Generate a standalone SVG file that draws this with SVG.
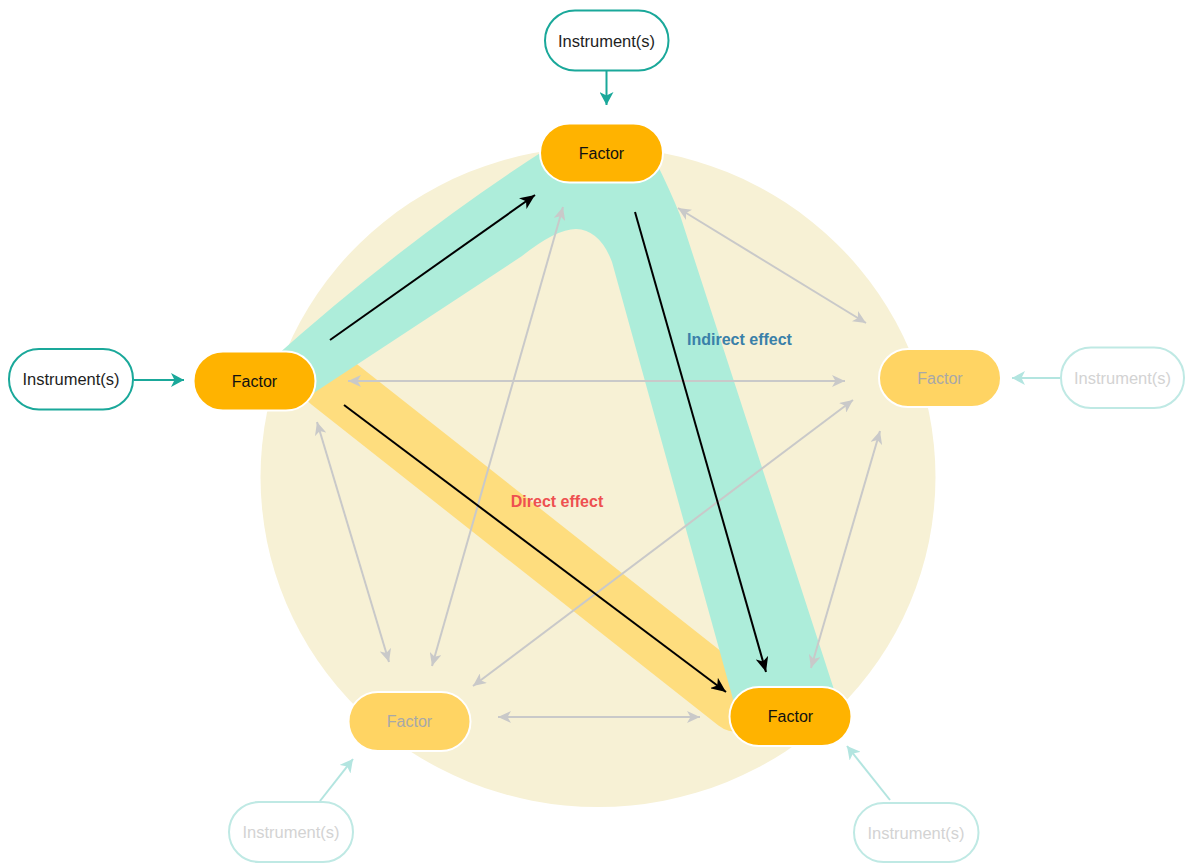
<svg xmlns="http://www.w3.org/2000/svg" width="1186" height="863" viewBox="0 0 1186 863">
  <defs>
    <style>
      text { font-family: "Liberation Sans", Arial, sans-serif; text-anchor: middle; }
      .factor rect { fill: #FFB300; stroke: #FFFFFF; stroke-width: 2; }
      .factor text { fill: #111111; font-size: 16px; }
      .factor.faded rect { fill: #FFD463; }
      .factor.faded text { fill: #A8A8A8; }
      .instr rect { fill: #FFFFFF; stroke: #1AA89A; stroke-width: 2; }
      .instr text { fill: #1E1E1E; font-size: 16.5px; }
      .instr.faded rect { stroke: #BFE9E4; }
      .instr.faded text { fill: #D3D3D3; }
      .link { fill: none; stroke: #C9C9C9; stroke-width: 2; marker-start: url(#grey-head); marker-end: url(#grey-head); }
      .effect { fill: none; stroke: #000000; stroke-width: 2; marker-end: url(#black-head); }
      .feed { fill: none; stroke: #1AA89A; stroke-width: 2; marker-end: url(#teal-head); }
      .feed.faded { stroke: #B3E5E0; marker-end: url(#teal-head-faded); }
      .label { font-weight: bold; font-size: 16px; }
    </style>
    <marker id="grey-head" viewBox="0 0 13 12" markerWidth="13" markerHeight="12" refX="13" refY="6" orient="auto-start-reverse" markerUnits="userSpaceOnUse">
      <path d="M0,0 L13,6 L0,12 L3.5,6 Z" fill="#C9C9C9"/>
    </marker>
    <marker id="black-head" viewBox="0 0 15 13" markerWidth="15" markerHeight="13" refX="15" refY="6.5" orient="auto" markerUnits="userSpaceOnUse">
      <path d="M0,0 L15,6.5 L0,13 L4,6.5 Z" fill="#000000"/>
    </marker>
    <marker id="teal-head" viewBox="0 0 13 14" markerWidth="13" markerHeight="14" refX="13" refY="7" orient="auto" markerUnits="userSpaceOnUse">
      <path d="M0,0 L13,7 L0,14 L3.5,7 Z" fill="#1AA89A"/>
    </marker>
    <marker id="teal-head-faded" viewBox="0 0 13 14" markerWidth="13" markerHeight="14" refX="13" refY="7" orient="auto" markerUnits="userSpaceOnUse">
      <path d="M0,0 L13,7 L0,14 L3.5,7 Z" fill="#B3E5E0"/>
    </marker>
  </defs>

  <!-- background disc -->
  <ellipse id="backdrop" cx="598" cy="477" rx="337.5" ry="330" fill="#F7F1D5"/>

  <!-- highlighted paths -->
  <g id="bands">
    <line id="direct-band" x1="330" y1="381" x2="737" y2="702" stroke="#FEDD7E" stroke-width="60" stroke-linecap="round"/>
    <path id="indirect-band" fill="#ADEDDA" d="M268,363 Q410,236 548,148 L655,160 Q670,190 680,215 L839,705 L736,710 L612,262 Q600,230 576,229 Q556,229 522,256 L300,402 Z"/>
  </g>

  <g id="connectors">
    <line class="link" x1="348" y1="381" x2="845" y2="381"/>
    <line class="link" x1="563" y1="207" x2="432" y2="666"/>
    <line class="link" x1="678" y1="208" x2="866" y2="323"/>
    <line class="link" x1="317" y1="422" x2="389" y2="662"/>
    <line class="link" x1="853" y1="400" x2="473" y2="686"/>
    <line class="link" x1="880" y1="431" x2="811" y2="668"/>
    <line class="link" x1="498" y1="717" x2="700" y2="717"/>

    <line class="effect" x1="330" y1="340" x2="535" y2="195"/>
    <line class="effect" x1="344" y1="405" x2="726" y2="692"/>
    <line class="effect" x1="635" y1="212" x2="766" y2="672"/>

    <line class="feed" x1="606.5" y1="71" x2="606.5" y2="105"/>
    <line class="feed" x1="134" y1="380" x2="184" y2="380"/>
    <line class="feed faded" x1="1060" y1="378" x2="1012" y2="378"/>
    <line class="feed faded" x1="320" y1="801" x2="353" y2="759"/>
    <line class="feed faded" x1="890" y1="800" x2="847" y2="746"/>
  </g>

  <!-- factors -->
  <g id="factor-top" class="factor">
    <rect x="540" y="123.5" width="123" height="59" rx="29.5"/>
    <text x="601.5" y="159">Factor</text>
  </g>
  <g id="factor-left" class="factor">
    <rect x="193.5" y="351.5" width="122" height="59" rx="29.5"/>
    <text x="254.5" y="387">Factor</text>
  </g>
  <g id="factor-right" class="factor faded">
    <rect x="879" y="349" width="122" height="58" rx="29"/>
    <text x="940" y="384">Factor</text>
  </g>
  <g id="factor-bottom-left" class="factor faded">
    <rect x="348.5" y="692" width="122" height="59" rx="29.5"/>
    <text x="409.5" y="727">Factor</text>
  </g>
  <g id="factor-bottom-right" class="factor">
    <rect x="729.5" y="687" width="122" height="59" rx="29.5"/>
    <text x="790.5" y="722">Factor</text>
  </g>

  <!-- instruments -->
  <g id="instrument-top" class="instr">
    <rect x="545" y="10.5" width="123.5" height="60" rx="30"/>
    <text x="606.5" y="46.5">Instrument(s)</text>
  </g>
  <g id="instrument-left" class="instr">
    <rect x="9" y="349" width="124" height="60.5" rx="30"/>
    <text x="71" y="385">Instrument(s)</text>
  </g>
  <g id="instrument-right" class="instr faded">
    <rect x="1061" y="347.5" width="123" height="60.5" rx="30"/>
    <text x="1122.5" y="384">Instrument(s)</text>
  </g>
  <g id="instrument-bottom-left" class="instr faded">
    <rect x="229" y="802" width="124" height="60" rx="30"/>
    <text x="291" y="838">Instrument(s)</text>
  </g>
  <g id="instrument-bottom-right" class="instr faded">
    <rect x="854" y="803" width="124.5" height="59" rx="29.5"/>
    <text x="916" y="838.5">Instrument(s)</text>
  </g>

  <!-- effect labels -->
  <text id="label-indirect" class="label" x="739.5" y="345" fill="#3A80A9">Indirect effect</text>
  <text id="label-direct" class="label" x="557" y="507" fill="#EE5050">Direct effect</text>
</svg>
